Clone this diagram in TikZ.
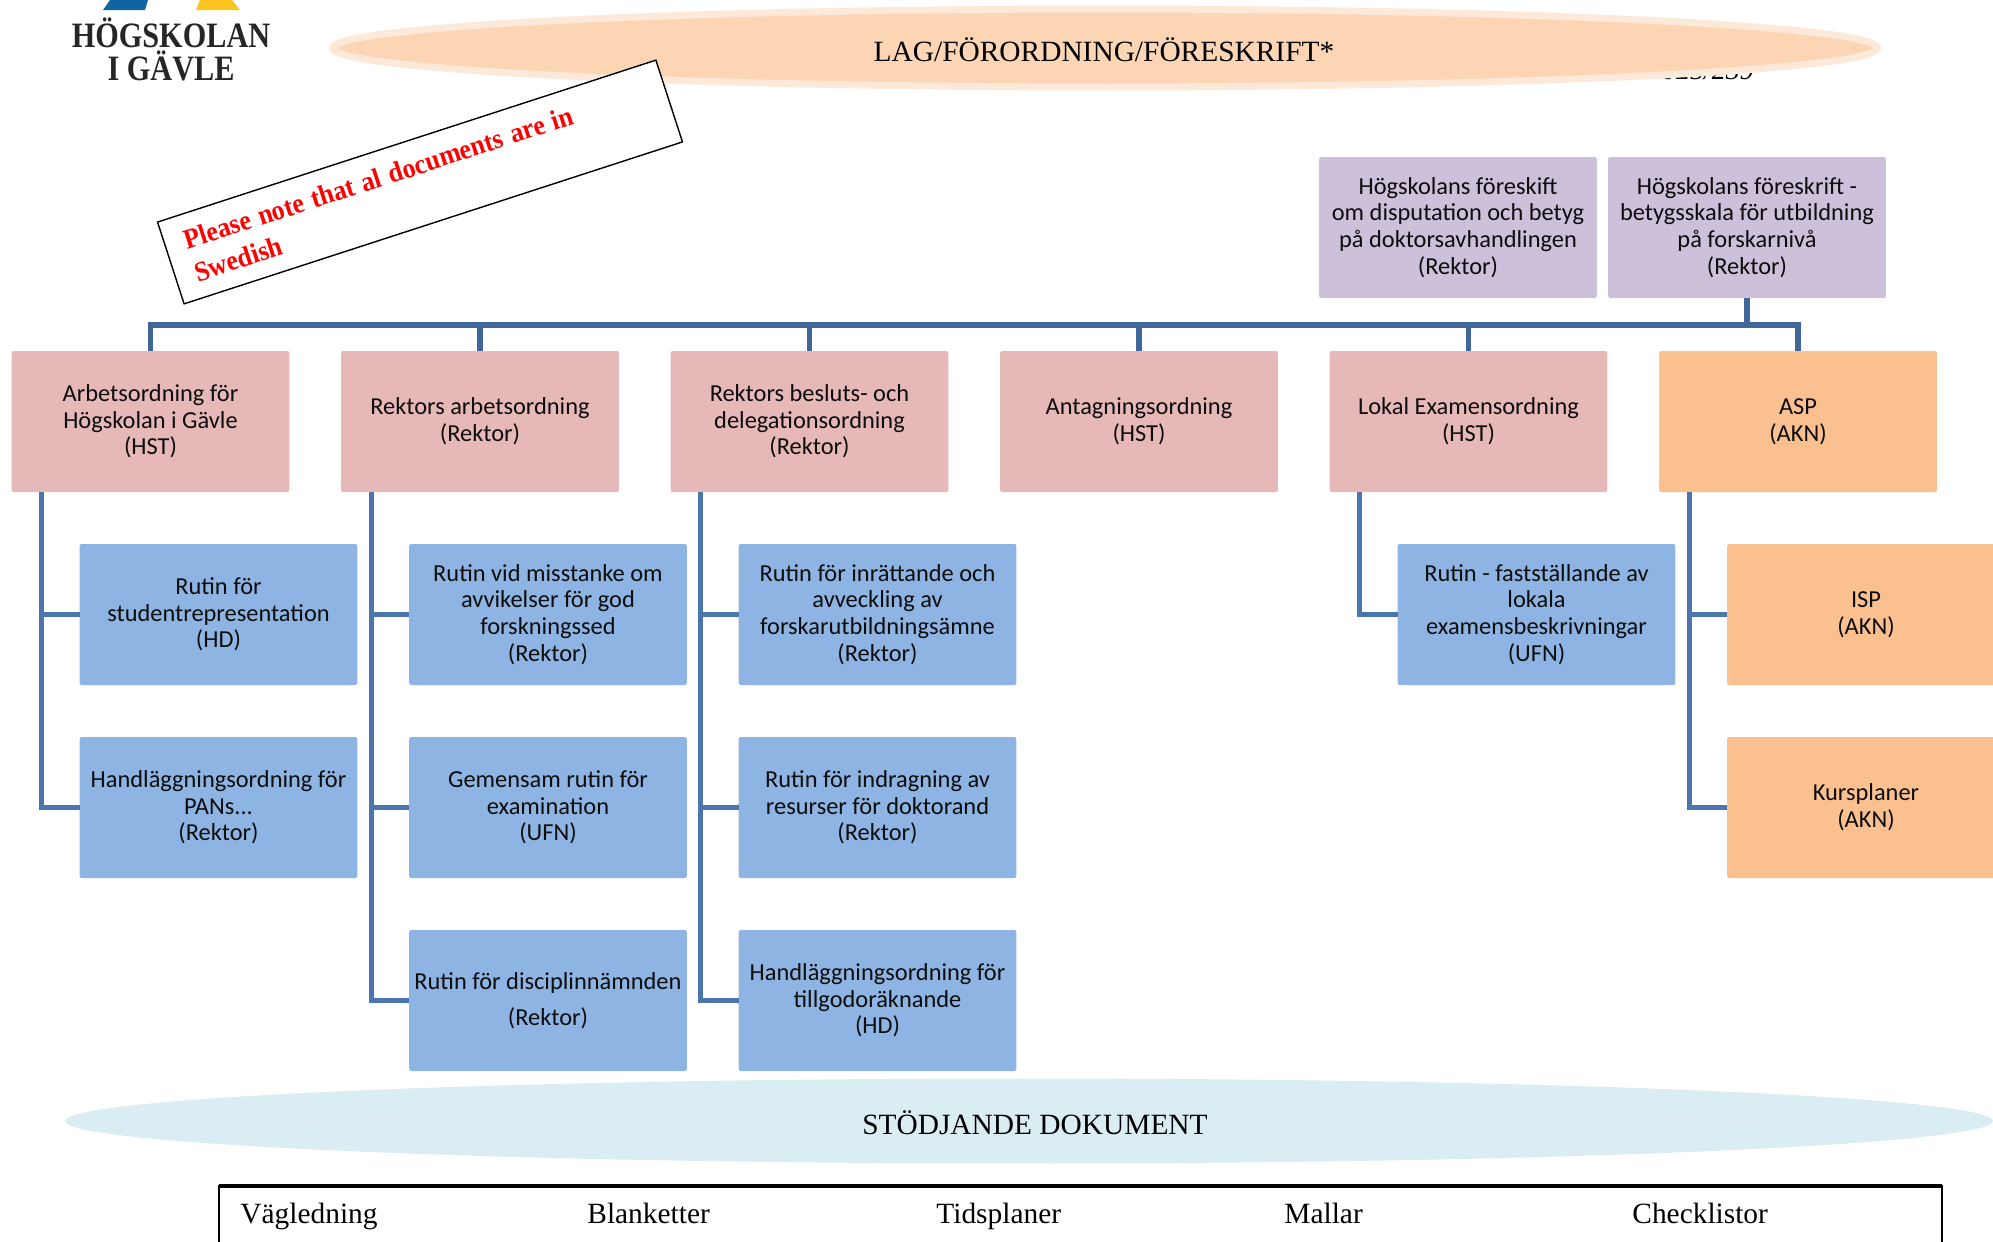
\documentclass[tikz,border=0pt]{standalone}
\usepackage{fontspec}
\setmainfont{Carlito}
\newfontfamily\serifface{Liberation Serif}
\newfontfamily\noteface[FakeStretch=0.93]{Liberation Serif}
\usetikzlibrary{shapes.geometric,calc}
\definecolor{bar}{HTML}{41679A}
\definecolor{sidebar}{HTML}{4A76AD}
\definecolor{pinkbox}{HTML}{E6B8B7}
\definecolor{bluebox}{HTML}{8DB4E2}
\definecolor{purplebox}{HTML}{CCC0DA}
\definecolor{orangebox}{HTML}{FAC090}
\definecolor{peachfill}{HTML}{FCD5B5}
\definecolor{peachedge}{HTML}{FDE9D9}
\definecolor{skyfill}{HTML}{DAEDF3}
\definecolor{logoblue}{HTML}{0E659F}
\definecolor{logoyellow}{HTML}{FCC41F}
\tikzset{
  docbox/.style={rectangle,rounded corners=1pt,minimum width=138.8pt,minimum height=70.5pt,inner sep=0pt,outer sep=0pt,align=center,font=\fontsize{12.2}{13.3}\selectfont,text=black!95},
  pinkdoc/.style={docbox,fill=pinkbox},
  bluedoc/.style={docbox,fill=bluebox},
  purpledoc/.style={docbox,fill=purplebox},
  orangedoc/.style={docbox,fill=orangebox},
  conn/.style={draw=bar,line width=2.7pt,line cap=butt,line join=miter},
  sideconn/.style={draw=sidebar,line width=2.7pt,line cap=butt,line join=miter},
  oval/.style={ellipse,inner sep=0pt,outer sep=0pt},
  ovaltext/.style={inner sep=0pt,font=\serifface\fontsize{14.7}{16}\selectfont},
  toolname/.style={anchor=base west,inner sep=0pt,font=\serifface\fontsize{14.7}{16}\selectfont},
  logotext/.style={inner sep=0pt,font=\serifface\bfseries\fontsize{17}{20}\selectfont,text=black!85,xscale=.89,yscale=1.05,transform shape}
}
\begin{document}
\begin{tikzpicture}[x=0.5pt,y=-0.5pt]
\useasboundingbox (0,0) rectangle (1993,1242);
% logo
\fill[logoblue] (110,0) -- (148,0) -- (145,10) -- (103,10) -- cycle;
\fill[logoyellow] (200,0) -- (232,0) -- (240,10) -- (196,10) -- cycle;
\node[logotext] (logoa) at (171,33) {HÖGSKOLAN};
\node[logotext] (logob) at (171,66) {I GÄVLE};
% partly hidden reference number
\node[inner sep=0pt,anchor=base,font=\serifface\itshape\fontsize{14}{16}\selectfont] (refno) at (1708,79.5) {025/239};
% ovals
\node[oval,fill=peachfill,draw=peachedge,line width=3.5pt,minimum width=772.5pt,minimum height=39pt] (law) at (1105,48) {};
\node[ovaltext] (lawtext) at (1104,49.5) {LAG/FÖRORDNING/FÖRESKRIFT*};
\node[oval,fill=skyfill,minimum width=964pt,minimum height=42.5pt] (support) at (1029,1121) {};
\node[ovaltext] (supporttext) at (1035,1123) {STÖDJANDE DOKUMENT};
% note
\node[rectangle,draw=black,line width=.7pt,fill=white,rotate=18,minimum width=262pt,minimum height=43pt,inner xsep=10pt,inner ysep=0pt,align=left,text width=242pt,text=red,font=\noteface\bfseries\fontsize{14}{17}\selectfont] (note) at (420,182) {\spaceskip=4pt Please note that al documents are in\\Swedish};
% purple
\node[purpledoc] (f1) at (1458,227.5) {Högskolans föreskift\\om disputation och betyg\\på doktorsavhandlingen\\(Rektor)};
\node[purpledoc] (f2) at (1747,227.5) {Högskolans föreskrift -\\betygsskala för utbildning\\på forskarnivå\\(Rektor)};
% top row
\node[pinkdoc] (p1) at (150.5,421.5) {Arbetsordning för\\Högskolan i Gävle\\(HST)};
\node[pinkdoc] (p2) at (480,421.5) {Rektors arbetsordning\\(Rektor)};
\node[pinkdoc] (p3) at (809.5,421.5) {Rektors besluts- och\\delegationsordning\\(Rektor)};
\node[pinkdoc] (p4) at (1139,421.5) {Antagningsordning\\(HST)};
\node[pinkdoc] (p5) at (1468.5,421.5) {Lokal Examensordning\\(HST)};
\node[orangedoc] (p6) at (1798,421.5) {ASP\\(AKN)};
% children
\node[bluedoc] (a1) at (218.5,614.5) {Rutin för\\studentrepresentation\\(HD)};
\node[bluedoc] (a2) at (218.5,807.5) {Handläggningsordning för\\PANs...\\(Rektor)};
\node[bluedoc] (b1) at (548,614.5) {Rutin vid misstanke om\\avvikelser för god\\forskningssed\\(Rektor)};
\node[bluedoc] (b2) at (548,807.5) {Gemensam rutin för\\examination\\(UFN)};
\node[bluedoc] (b3) at (548,1000.5) {Rutin för disciplinnämnden\\[4.8pt](Rektor)};
\node[bluedoc] (c1) at (877.5,614.5) {Rutin för inrättande och\\avveckling av\\forskarutbildningsämne\\(Rektor)};
\node[bluedoc] (c2) at (877.5,807.5) {Rutin för indragning av\\resurser för doktorand\\(Rektor)};
\node[bluedoc] (c3) at (877.5,1000.5) {Handläggningsordning för\\tillgodoräknande\\(HD)};
\node[bluedoc] (e1) at (1536.5,614.5) {Rutin - fastställande av\\lokala\\examensbeskrivningar\\(UFN)};
\node[orangedoc] (g1) at (1866,614.5) {ISP\\(AKN)};
\node[orangedoc] (g2) at (1866,807.5) {Kursplaner\\(AKN)};
% bus
\coordinate (bus) at (0,325);
\draw[conn] (p1.north) |- (bus -| p6.north) -- (p6.north);
\foreach \n in {p2,p3,p4,p5} \draw[conn] (\n.north) -- (\n.north |- bus);
\draw[conn] (f2.south) -- (f2.south |- bus);
% side trunks
\coordinate (ta) at ($(p1.south west)+(30,0)$);
\coordinate (tb) at ($(p2.south west)+(30,0)$);
\coordinate (tc) at ($(p3.south west)+(30,0)$);
\coordinate (te) at ($(p5.south west)+(30,0)$);
\coordinate (tg) at ($(p6.south west)+(30,0)$);
\draw[sideconn] (ta) |- (a1.west);
\draw[sideconn] (ta) |- (a2.west);
\draw[sideconn] (tb) |- (b1.west);
\draw[sideconn] (tb) |- (b2.west);
\draw[sideconn] (tb) |- (b3.west);
\draw[sideconn] (tc) |- (c1.west);
\draw[sideconn] (tc) |- (c2.west);
\draw[sideconn] (tc) |- (c3.west);
\draw[sideconn] (te) |- (e1.west);
\draw[sideconn] (tg) |- (g1.west);
\draw[sideconn] (tg) |- (g2.west);
% bottom frame
\node[rectangle,draw=black,line width=.9pt,inner sep=0pt,outer sep=0pt,anchor=north west,minimum width=861.5pt,minimum height=60pt] (tools) at (219,1186) {};
\draw[black,line width=1.6pt] (tools.north west) -- (tools.north east);
\node[toolname] (t1) at (240,1223) {Vägledning};
\node[toolname] (t2) at (587,1223) {Blanketter};
\node[toolname] (t3) at (936,1223) {Tidsplaner};
\node[toolname] (t4) at (1284,1223) {Mallar};
\node[toolname] (t5) at (1632,1223) {Checklistor};
\end{tikzpicture}
\end{document}
